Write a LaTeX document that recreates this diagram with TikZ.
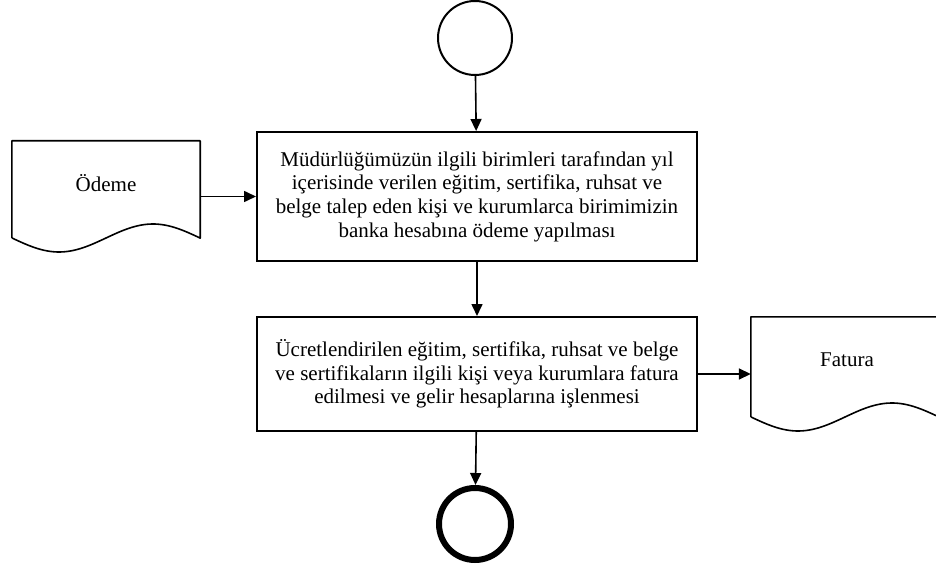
\documentclass[tikz,border=0pt]{standalone}
\usepackage{fontspec}
\setmainfont{Liberation Serif}
\usetikzlibrary{arrows.meta}
\tikzset{
  x=1pt, y=-1pt,
  proc/.style={draw, line width=2pt, minimum width=440pt, align=center, inner sep=0pt,
    font=\fontsize{21}{23.7}\selectfont},
  docbox/.style={minimum width=188pt, inner sep=0pt},
  doclabel/.style={font=\fontsize{21}{23.7}\selectfont, inner sep=0pt},
  arr/.style={line width=1.6pt, -{Triangle[length=12pt,width=11pt]}},
  docline/.style={line width=1.6pt, line join=round}
}
\begin{document}
\begin{tikzpicture}
\useasboundingbox (0,0) rectangle (936,569);
\clip (0,0) rectangle (936,569);
% start / end
\node[circle, draw, line width=2pt, minimum size=74pt, inner sep=0pt] (start) at (475,38) {};
\node[circle, draw, line width=6pt, minimum size=72pt, inner sep=0pt] (stop) at (475,524) {};
% process boxes
\node[proc, minimum height=129pt] (box1) at (477,196.5) {M\"ud\"url\"u\u{g}\"um\"uz\"un ilgili birimleri taraf\i ndan y\i l\\i\c{c}erisinde verilen e\u{g}itim, sertifika, ruhsat ve\\belge talep eden ki\c{s}i ve kurumlarca birimimizin\\banka hesab\i na \"odeme yap\i lmas\i};
\node[proc, minimum height=114pt] (box2) at (477,374) {\"Ucretlendirilen e\u{g}itim, sertifika, ruhsat ve belge\\ve sertifikalar\i n ilgili ki\c{s}i veya kurumlara fatura\\edilmesi ve gelir hesaplar\i na i\c{s}lenmesi};
% documents
\node[docbox, minimum height=97pt] (odeme) at (106,189.5) {};
\node[doclabel] (odemeL) at (106,183) {\"Odeme};
\draw[docline] (odeme.south west) -- (odeme.north west) -- (odeme.north east) -- (odeme.south east)
  -- plot[domain=1:0, samples=60, smooth] ({12+188*\x}, {238+14*sin(360*\x)});
\node[docbox, minimum height=100pt] (fatura) at (845,367) {};
\node[doclabel] (faturaL) at (847,360) {Fatura};
\draw[docline] (fatura.south west) -- (fatura.north west) -- (fatura.north east) -- (fatura.south east)
  -- plot[domain=1:0, samples=60, smooth] ({751+188*\x}, {417+14*sin(360*\x)});
% connectors
\draw[arr] (start) -- (box1);
\draw[arr] (box1) -- (box2);
\draw[arr] (box2) -- (stop);
\draw[arr] (odeme.east |- box1.west) -- (box1.west);
\draw[arr] (box2.east) -- (fatura.west |- box2.east);
\end{tikzpicture}
\end{document}
